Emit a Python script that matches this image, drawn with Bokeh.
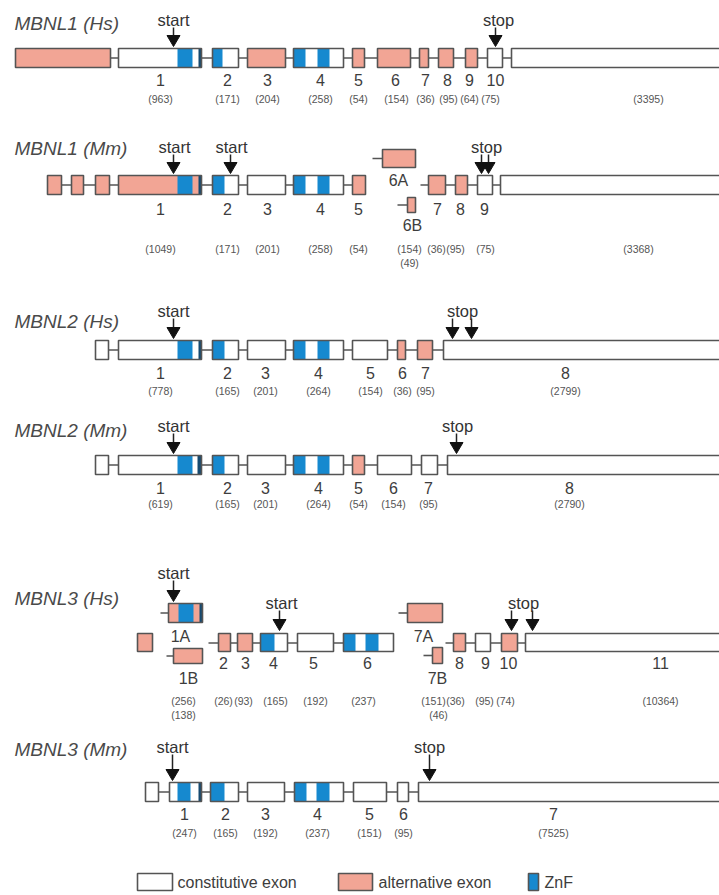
from bokeh.plotting import figure
from bokeh.models import Range1d
from bokeh.core.properties import value
from bokeh.embed import file_html
from bokeh.resources import INLINE

# ---------------------------------------------------------------------------
# Exon maps (diagram units, left/right edges along the track)
# ---------------------------------------------------------------------------
gene_names = ["MBNL1 (Hs)", "MBNL1 (Mm)", "MBNL2 (Hs)", "MBNL2 (Mm)", "MBNL3 (Hs)", "MBNL3 (Mm)"]

# MBNL1 human
m1hs_left = [15, 118, 212, 247, 293, 352, 377, 419, 438, 465, 487, 511]
m1hs_right = [110, 201, 238, 285, 343, 364, 410, 428, 453, 477, 502, 730]
m1hs_type = ["alt", "con", "con", "alt", "con", "alt", "alt", "alt", "alt", "alt", "con", "con"]
m1hs_znf_left = [177, 198, 212, 293, 317]
m1hs_znf_right = [192, 201, 222, 305, 329]
m1hs_num = ["1", "2", "3", "4", "5", "6", "7", "8", "9", "10"]
m1hs_num_x = [160, 227, 267, 320, 358, 395, 425, 447, 469, 495]
m1hs_len = ["(963)", "(171)", "(204)", "(258)", "(54)", "(154)", "(36)", "(95)", "(64)", "(75)", "(3395)"]
m1hs_len_x = [160, 227, 267, 320, 358, 396, 425, 448, 469, 490, 648]

# MBNL1 mouse
m1mm_left = [47, 71, 95, 118, 212, 247, 293, 352, 428, 455, 477, 500]
m1mm_right = [61, 83, 109, 201, 238, 285, 343, 365, 445, 467, 492, 730]
m1mm_type = ["alt", "alt", "alt", "alt", "con", "con", "con", "alt", "alt", "alt", "con", "con"]
m1mm_znf_left = [177, 198, 212, 293, 317]
m1mm_znf_right = [192, 201, 224, 305, 329]
m1mm_alt_names = ["6A", "6B"]
m1mm_alt_left = [382, 407]
m1mm_alt_right = [415, 415]
m1mm_num = ["1", "2", "3", "4", "5", "7", "8", "9"]
m1mm_num_x = [160, 227, 267, 320, 358, 437, 460, 484]
m1mm_len = ["(1049)", "(171)", "(201)", "(258)", "(54)", "(154)", "(36)", "(95)", "(75)", "(3368)"]
m1mm_len_x = [160, 227, 267, 320, 358, 409, 436, 455, 485, 638]
m1mm_len2 = ["(49)"]
m1mm_len2_x = [409]

# MBNL2 human
m2hs_left = [95, 118, 212, 247, 293, 352, 397, 417, 443]
m2hs_right = [108, 201, 238, 285, 343, 387, 405, 432, 730]
m2hs_type = ["con", "con", "con", "con", "con", "con", "alt", "alt", "con"]
m2hs_znf_left = [177, 198, 212, 293, 317]
m2hs_znf_right = [192, 201, 224, 305, 329]
m2hs_num = ["1", "2", "3", "4", "5", "6", "7", "8"]
m2hs_num_x = [160, 227, 265, 318, 370, 402, 425, 565]
m2hs_len = ["(778)", "(165)", "(201)", "(264)", "(154)", "(36)", "(95)", "(2799)"]
m2hs_len_x = [160, 227, 265, 318, 370, 402, 425, 565]

# MBNL2 mouse
m2mm_left = [95, 118, 212, 247, 293, 352, 377, 421, 447]
m2mm_right = [108, 201, 238, 285, 343, 364, 411, 437, 730]
m2mm_type = ["con", "con", "con", "con", "con", "alt", "con", "con", "con"]
m2mm_znf_left = [177, 197, 212, 293, 317]
m2mm_znf_right = [192, 201, 224, 305, 329]
m2mm_num = ["1", "2", "3", "4", "5", "6", "7", "8"]
m2mm_num_x = [160, 227, 265, 318, 358, 393, 428, 569]
m2mm_len = ["(619)", "(165)", "(201)", "(264)", "(54)", "(154)", "(95)", "(2790)"]
m2mm_len_x = [160, 227, 265, 318, 358, 393, 428, 569]

# MBNL3 human
m3hs_left = [137, 218, 237, 260, 297, 343, 453, 475, 501, 525]
m3hs_right = [152, 230, 252, 287, 333, 393, 465, 490, 517, 730]
m3hs_type = ["alt", "alt", "alt", "con", "con", "con", "alt", "con", "alt", "con"]
m3hs_znf_left = [260, 343, 365]
m3hs_znf_right = [274, 355, 378]
m3hs_alt_names = ["1A", "1B", "7A", "7B"]
m3hs_alt_left = [168, 173, 407, 432]
m3hs_alt_right = [202, 202, 442, 442]
m3hs_alt_znf_left = [178, 199]
m3hs_alt_znf_right = [193, 202]
m3hs_num = ["2", "3", "4", "5", "6", "8", "9", "10", "11"]
m3hs_num_x = [223, 245, 273, 313, 367, 459, 485, 508, 660]
m3hs_len = ["(256)", "(26)", "(93)", "(165)", "(192)", "(237)", "(151)", "(36)", "(95)", "(74)", "(10364)"]
m3hs_len_x = [183, 223, 243, 275, 315, 363, 433, 455, 484, 505, 660]
m3hs_len2 = ["(138)", "(46)"]
m3hs_len2_x = [183, 438]

# MBNL3 mouse
m3mm_left = [145, 169, 210, 247, 294, 353, 397, 418]
m3mm_right = [158, 201, 238, 284, 343, 386, 408, 730]
m3mm_type = ["con"] * 8
m3mm_znf_left = [177, 198, 210, 294, 316]
m3mm_znf_right = [190, 201, 224, 306, 329]
m3mm_num = ["1", "2", "3", "4", "5", "6", "7"]
m3mm_num_x = [184, 225, 265, 317, 369, 403, 553]
m3mm_len = ["(247)", "(165)", "(192)", "(237)", "(151)", "(95)", "(7525)"]
m3mm_len_x = [184, 225, 265, 317, 369, 403, 553]

# start / stop codon markers: (track, x, label)
codon_track = [0, 0, 1, 1, 1, 1, 2, 2, 2, 3, 3, 4, 4, 4, 4, 5, 5]
codon_x = [173, 495, 173, 230, 481, 488, 173, 452, 471, 173, 456, 173, 279, 511, 532, 172, 429]
codon_kind = ["start", "stop", "start", "start", "stop", "stop", "start", "stop", "stop",
              "start", "stop", "start", "start", "stop", "stop", "start", "stop"]

legend_labels = ["constitutive exon", "alternative exon", "ZnF"]

# ---------------------------------------------------------------------------
# Styling and vertical layout
# ---------------------------------------------------------------------------
PINK = "#F2A595"
BLUE = "#1689CF"
DARK_BLUE = "#164a70"
EDGE = "#545454"
INK = "#3d3d3d"
FONT = "Liberation Sans"

row_top = [48, 175, 340, 455, 633, 782]
row_h = 19
name_y = [23, 148, 321, 430, 598, 749]
num_y = [79, 208, 372, 487, 662, 813]
len_y = [98, 248, 390, 503, 700, 832]

p = figure(width=719, height=895, x_range=Range1d(0, 719), y_range=Range1d(895, 0),
           x_axis_type=None, y_axis_type=None, toolbar_location=None,
           output_backend="svg", min_border=0)
p.grid.visible = False
p.outline_line_color = None
p.background_fill_color = "white"


def fill_of(kinds):
    return [PINK if k == "alt" else "white" for k in kinds]


def line(x0, x1, y):
    p.segment(x0=[x0], y0=[y], x1=[x1], y1=[y], line_color=EDGE, line_width=1.6)


def boxes(left, right, kinds, top, bottom, znf_left=(), znf_right=()):
    p.quad(left=left, right=right, top=top, bottom=bottom,
           fill_color=fill_of(kinds), line_color=None)
    if znf_left:
        zl, zr = list(znf_left), list(znf_right)
        # very narrow zinc-finger slivers read as a dark band
        colors = [DARK_BLUE if r - l <= 4 else BLUE for l, r in zip(zl, zr)]
        p.quad(left=zl, right=zr, top=top, bottom=bottom,
               fill_color=colors, line_color=None)
    p.quad(left=left, right=right, top=top, bottom=bottom,
           fill_color=None, line_color=EDGE, line_width=1.6)


def labels(xs, ys, texts, size, color=INK, style="normal"):
    if not isinstance(ys, list):
        ys = [ys] * len(xs)
    p.text(x=xs, y=ys, text=texts, text_align="center", text_baseline="middle",
           text_font=value(FONT), text_font_size=size, text_color=color,
           text_font_style=style)


def mid(i):
    return row_top[i] + row_h / 2


# intron lines ---------------------------------------------------------------
line(m1hs_left[0], m1hs_right[-1], mid(0))
line(m1mm_left[0], m1mm_right[7], mid(1))
line(m1mm_left[8] - 8, m1mm_right[-1], mid(1))
line(m1mm_alt_left[0] - 10, m1mm_alt_left[0], 158)
line(m1mm_alt_left[1] - 10, m1mm_alt_left[1], 204.5)
line(m2hs_left[0], m2hs_right[-1], mid(2))
line(m2mm_left[0], m2mm_right[-1], mid(3))
line(m3hs_left[1] - 10, m3hs_right[5], mid(4))
line(m3hs_left[6] - 8, m3hs_right[-1], mid(4))
line(m3hs_alt_left[0] - 8, m3hs_alt_left[0], 612.5)
line(m3hs_alt_left[1] - 7, m3hs_alt_left[1], 655.5)
line(m3hs_alt_left[2] - 9, m3hs_alt_left[2], 612.5)
line(m3hs_alt_left[3] - 9, m3hs_alt_left[3], 655)
line(m3mm_left[0], m3mm_right[-1], mid(5))

# exons -----------------------------------------------------------------------
boxes(m1hs_left, m1hs_right, m1hs_type, row_top[0], row_top[0] + row_h, m1hs_znf_left, m1hs_znf_right)
boxes(m1mm_left, m1mm_right, m1mm_type, row_top[1], row_top[1] + row_h, m1mm_znf_left, m1mm_znf_right)
boxes(m1mm_alt_left[:1], m1mm_alt_right[:1], ["alt"], 149, 167)
boxes(m1mm_alt_left[1:], m1mm_alt_right[1:], ["alt"], 197, 212)
boxes(m2hs_left, m2hs_right, m2hs_type, row_top[2], row_top[2] + row_h, m2hs_znf_left, m2hs_znf_right)
boxes(m2mm_left, m2mm_right, m2mm_type, row_top[3], row_top[3] + row_h, m2mm_znf_left, m2mm_znf_right)
boxes(m3hs_left, m3hs_right, m3hs_type, row_top[4], row_top[4] + row_h - 1, m3hs_znf_left, m3hs_znf_right)
boxes(m3hs_alt_left[:1], m3hs_alt_right[:1], ["alt"], 603, 622, m3hs_alt_znf_left, m3hs_alt_znf_right)
boxes(m3hs_alt_left[1:2], m3hs_alt_right[1:2], ["alt"], 648, 663)
boxes(m3hs_alt_left[2:3], m3hs_alt_right[2:3], ["alt"], 603, 622)
boxes(m3hs_alt_left[3:], m3hs_alt_right[3:], ["alt"], 647, 663)
boxes(m3mm_left, m3mm_right, m3mm_type, row_top[5], row_top[5] + row_h, m3mm_znf_left, m3mm_znf_right)

# gene names --------------------------------------------------------------------
p.text(x=[14] * len(gene_names), y=name_y, text=gene_names, text_align="left",
       text_baseline="middle", text_font=value(FONT), text_font_size="19px",
       text_color="#4a4a4a", text_font_style="italic")

# exon numbers and lengths -------------------------------------------------------
NUM = "16px"
LEN = "10.5px"
LEN_C = "#555555"
labels(m1hs_num_x, num_y[0], m1hs_num, NUM)
labels(m1hs_len_x, len_y[0], m1hs_len, LEN, LEN_C)
labels(m1mm_num_x, num_y[1], m1mm_num, NUM)
labels([398, 412], [180, 225], m1mm_alt_names, NUM)
labels(m1mm_len_x, len_y[1], m1mm_len, LEN, LEN_C)
labels(m1mm_len2_x, len_y[1] + 14, m1mm_len2, LEN, LEN_C)
labels(m2hs_num_x, num_y[2], m2hs_num, NUM)
labels(m2hs_len_x, len_y[2], m2hs_len, LEN, LEN_C)
labels(m2mm_num_x, num_y[3], m2mm_num, NUM)
labels(m2mm_len_x, len_y[3], m2mm_len, LEN, LEN_C)
labels(m3hs_num_x, num_y[4], m3hs_num, NUM)
labels([180, 188, 423, 437], [636, 678, 636, 678], m3hs_alt_names, NUM)
labels(m3hs_len_x, len_y[4], m3hs_len, LEN, LEN_C)
labels(m3hs_len2_x, len_y[4] + 14, m3hs_len2, LEN, LEN_C)
labels(m3mm_num_x, num_y[5], m3mm_num, NUM)
labels(m3mm_len_x, len_y[5], m3mm_len, LEN, LEN_C)

# start / stop arrows ------------------------------------------------------------
tip_y = [46, 173, 338, 453, 630, 780]
text_y = [19, 146, 310, 425, 602, 746]
tri_xs, tri_ys, stem_x, stem_y0, stem_y1 = [], [], [], [], []
for t, x in zip(codon_track, codon_x):
    tip = tip_y[t]
    ty = text_y[t]
    if t == 4 and x < 200:
        tip, ty = 601, 572
    tri_xs.append([x - 6.5, x + 6.5, x])
    tri_ys.append([tip - 11, tip - 11, tip])
    stem_x.append(x)
    stem_y0.append(ty + 8)
    stem_y1.append(tip - 10)
p.segment(x0=stem_x, y0=stem_y0, x1=stem_x, y1=stem_y1, line_color="#222222", line_width=1.5)
p.patches(xs=tri_xs, ys=tri_ys, fill_color="#111111", line_color="#111111", line_width=1)

# one caption per arrow group
cap_x = [173, 498, 174, 231, 486, 173, 462, 173, 457, 173, 281, 523, 172, 429]
cap_y = [19, 19, 146, 146, 146, 310, 310, 425, 425, 572, 602, 602, 746, 746]
cap_t = ["start", "stop", "start", "start", "stop", "start", "stop", "start", "stop",
         "start", "start", "stop", "start", "stop"]
labels(cap_x, cap_y, cap_t, "16.5px", "#333333")

# legend -------------------------------------------------------------------------
p.quad(left=[137, 338, 528], right=[172, 372, 538], top=873, bottom=890,
       fill_color=["white", PINK, BLUE], line_color=EDGE, line_width=1.6)
p.text(x=[177, 378, 544], y=882, text=legend_labels, text_align="left",
       text_baseline="middle", text_font=value(FONT), text_font_size="16px",
       text_color=INK)

open("out.html", "w").write(file_html(p, INLINE))
